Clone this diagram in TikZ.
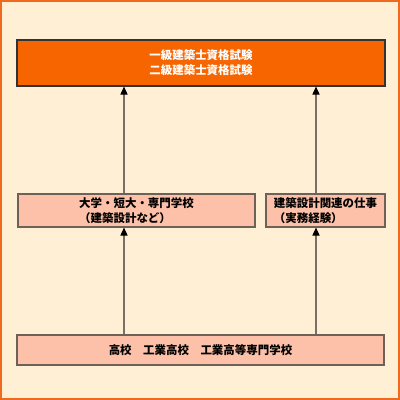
\documentclass[tikz,border=0pt]{standalone}
\usepackage{fontspec}
\usepackage{tikz}
\usetikzlibrary{arrows.meta}
\newfontfamily\jpfont{Noto Sans CJK JP}[BoldFont={Noto Sans CJK JP Black}]
\definecolor{bgcream}{HTML}{FFEFD4}
\definecolor{frameorange}{HTML}{F06A1E}
\definecolor{examorange}{HTML}{F76500}
\definecolor{boxsalmon}{HTML}{FCC1A8}
\definecolor{boxline}{HTML}{6E6258}
\definecolor{arrowgray}{HTML}{7A706A}

\begin{document}
\begin{tikzpicture}[x=0.75pt,y=-0.75pt,
  box/.style={draw=boxline,line width=0.9pt,fill=boxsalmon,inner sep=0pt,
    font=\jpfont\bfseries\fontsize{8.6}{11.25}\selectfont,align=left},
  exambox/.style={box,draw=black!80,fill=examorange,text=white,align=center},
  upto/.style={-{Triangle[length=6pt,width=5.4pt,color=black]},draw=arrowgray,line width=0.8pt}]
  \fill[bgcream] (0,0) rectangle (400,400);
  \draw[frameorange,line width=1.5pt] (1,1) rectangle (399,399);
  \node[exambox,minimum width=276pt,minimum height=34.5pt] (exam) at (201,63)
    {一級建築士資格試験\\二級建築士資格試験};
  \node[box,minimum width=177.75pt,minimum height=24.75pt] (univ) at (136.5,210.5)
    {大学・短大・専門学校\\（建築設計など）\hspace*{16pt}};
  \node[box,minimum width=89.25pt,minimum height=24.75pt] (work) at (325.5,210.5)
    {建築設計関連の仕事\\（実務経験）};
  \node[box,minimum width=275.25pt,minimum height=22.5pt] (school) at (200.5,350)
    {高校　工業高校　工業高等専門学校};
  \coordinate (ca) at (124,0);
  \coordinate (cb) at (316,0);
  \draw[upto] (school.north -| ca) -- (univ.south -| ca);
  \draw[upto] (school.north -| cb) -- (work.south -| cb);
  \draw[upto] (univ.north -| ca) -- (exam.south -| ca);
  \draw[upto] (work.north -| cb) -- (exam.south -| cb);
\end{tikzpicture}
\end{document}
